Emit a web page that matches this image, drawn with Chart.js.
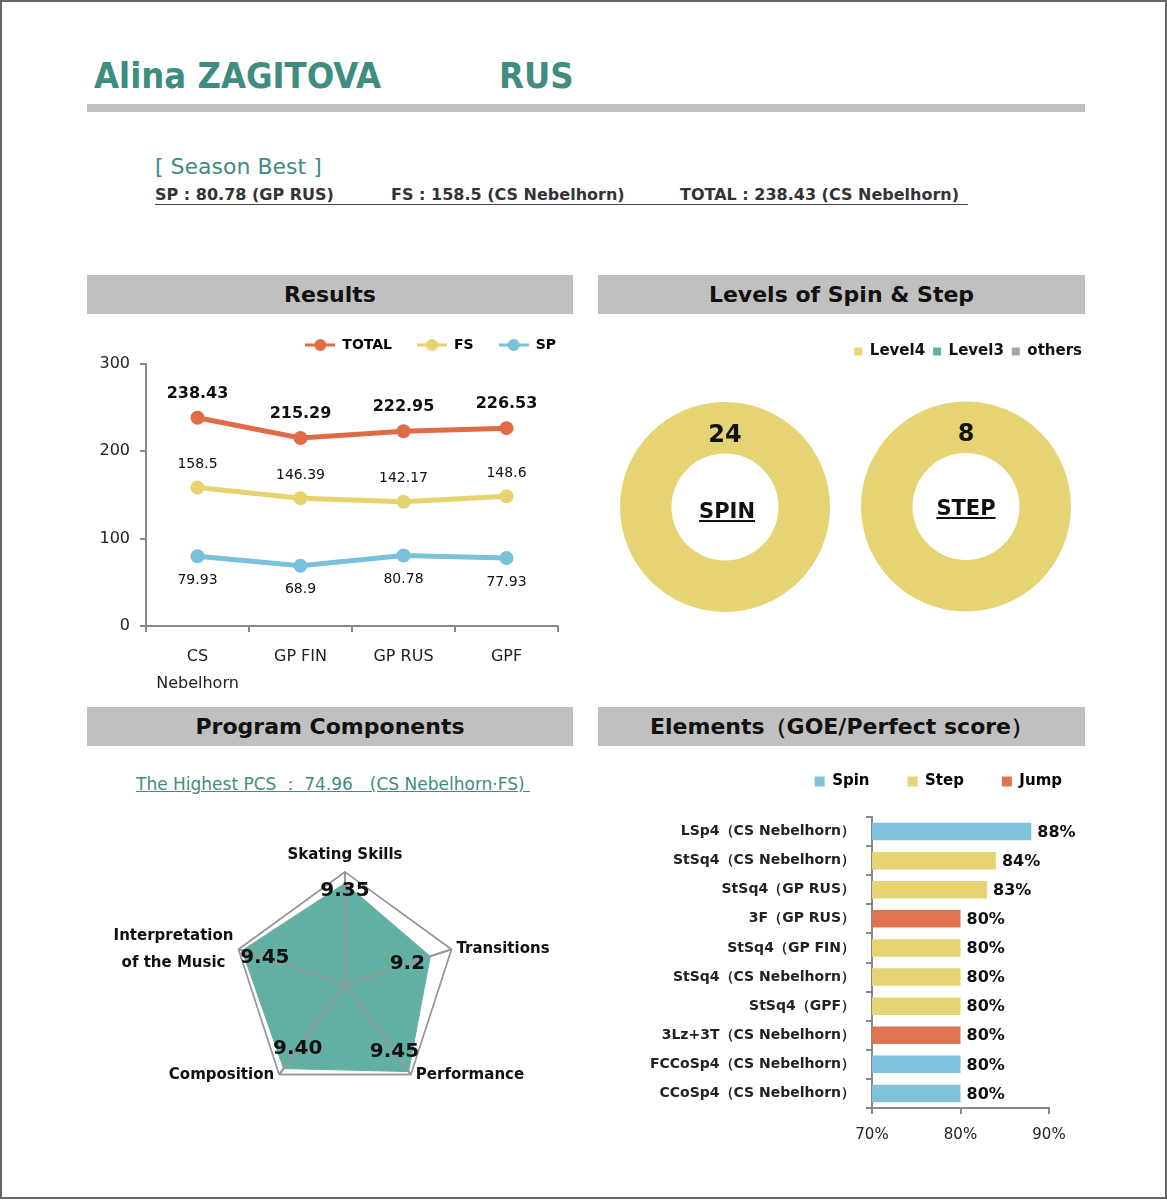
<!DOCTYPE html>
<html>
<head>
<meta charset="utf-8">
<script src="https://cdn.jsdelivr.net/npm/chart.js@4.4.1/dist/chart.umd.min.js"></script>
<style>
  html, body { margin: 0; padding: 0; background: #fff; }
  body { width: 1167px; height: 1200px; position: relative; overflow: hidden; font-family: "DejaVu Sans", Verdana, sans-serif; color: #111; }
  #frame { position: absolute; left: 0; top: 0; width: 1163px; height: 1195px; border: 2px solid #666; }
  .abs { position: absolute; white-space: pre; }
  .cond { font-family: "DejaVu Sans Condensed", "DejaVu Sans", sans-serif; font-stretch: condensed; }
  .title { font-weight: bold; font-size: 36px; line-height: 36px; color: #3f8c80; }
  .best { font-size: 16px; line-height: 16px; font-weight: bold; color: #333; }
  .bar { position: absolute; left: 87px; top: 104px; width: 998px; height: 8px; background: #c0c0c0; }
  .hdr { position: absolute; height: 39px; line-height: 39px; background: #c0c0c0; text-align: center; font-weight: bold; font-size: 22px; color: #111; }
  .center-text { font-weight: bold; font-size: 21px; text-decoration: underline; text-align: center; width: 120px; }
  canvas { position: absolute; }
</style>
</head>
<body>
<div id="frame"></div>

<div class="abs cond title" style="left:94px; top:58px;">Alina ZAGITOVA</div>
<div class="abs cond title" style="left:499px; top:58px;">RUS</div>
<div class="bar"></div>

<div class="abs" style="left:155px; top:156px; font-size:22px; line-height:22px; color:#3f8c80;">[ Season Best ]</div>
<div class="abs best" style="left:155px; top:187px;">SP : 80.78 (GP RUS)</div>
<div class="abs best" style="left:391px; top:187px;">FS : 158.5 (CS Nebelhorn)</div>
<div class="abs best" style="left:680px; top:187px;">TOTAL : 238.43 (CS Nebelhorn)</div>
<div class="abs" style="left:155px; top:204px; width:813px; height:1px; background:#444;"></div>

<div class="hdr" style="left:87px; top:275px; width:486px;">Results</div>
<div class="hdr" style="left:598px; top:275px; width:487px;">Levels of Spin &amp; Step</div>
<div class="hdr" style="left:87px; top:707px; width:486px;">Program Components</div>
<div class="hdr" style="left:598px; top:707px; width:487px;">Elements（GOE/Perfect score）</div>

<div class="abs" style="left:136px; top:775px; font-size:17px; line-height:19px; color:#3f8c80; text-decoration:underline;">The Highest PCS ： 74.96　(CS Nebelhorn·FS) </div>

<canvas id="resultsChart" width="486" height="387" style="left:87px; top:313px;"></canvas>
<canvas id="spinChart" width="210" height="210" style="left:620px; top:402px;"></canvas>
<canvas id="stepChart" width="254" height="308" style="left:839px; top:336px;"></canvas>
<canvas id="pcsChart" width="486" height="262" style="left:87px; top:840px;"></canvas>
<canvas id="elementsChart" width="487" height="419" style="left:598px; top:736px;"></canvas>

<div class="abs center-text" style="left:667px; top:499px;">SPIN</div>
<div class="abs center-text" style="left:906px; top:496px;">STEP</div>

<script>
// Results
const events = [['CS', 'Nebelhorn'], 'GP FIN', 'GP RUS', 'GPF'];
const totalScores = [238.43, 215.29, 222.95, 226.53];
const fsScores = [158.5, 146.39, 142.17, 148.6];
const spScores = [79.93, 68.9, 80.78, 77.93];

// Levels of Spin & Step
const levelNames = ['Level4', 'Level3', 'others'];
const spinLevels = [24, 0, 0];
const stepLevels = [8, 0, 0];

// Program Components
const pcsNames = ['Skating Skills', 'Transitions', 'Performance', 'Composition', ['Interpretation', 'of the Music']];
const pcsScores = [9.35, 9.2, 9.45, 9.40, 9.45];
const pcsText = ['9.35', '9.2', '9.45', '9.40', '9.45'];

// Elements (GOE / perfect score, %)
const elementNames = [
    'LSp4（CS Nebelhorn）',
    'StSq4（CS Nebelhorn）',
    'StSq4（GP RUS）',
    '3F（GP RUS）',
    'StSq4（GP FIN）',
    'StSq4（CS Nebelhorn）',
    'StSq4（GPF）',
    '3Lz+3T（CS Nebelhorn）',
    'FCCoSp4（CS Nebelhorn）',
    'CCoSp4（CS Nebelhorn）'
];
const elementPct = [88, 84, 83, 80, 80, 80, 80, 80, 80, 80];
const elementTypes = ['Spin', 'Step', 'Step', 'Jump', 'Step', 'Step', 'Step', 'Jump', 'Spin', 'Spin'];

const FONT = '"DejaVu Sans", Verdana, sans-serif';
Chart.defaults.font.family = FONT;
Chart.defaults.color = '#222';
Chart.defaults.animation = false;
Chart.defaults.plugins.tooltip.enabled = false;

const colors = { total: '#e06b45', fs: '#e6d36e', sp: '#79c0da', teal: '#62b0a3', others: '#a6a6a6' };
const typeColors = { Spin: '#7fc0db', Step: '#e6d374', Jump: '#e07352' };
const axisGrey = '#888';

// extra room under the legend, and a sideways nudge
const legendGap = {
    id: 'legendGap',
    afterInit(chart, args, opts) {
        const legend = chart.legend;
        if (!legend) return;
        const fit = legend.fit;
        legend.fit = function () { fit.call(this); this.height += opts.gap || 0; };
    },
    afterLayout(chart, args, opts) {
        if (chart.legend && opts.shift) {
            chart.legend.left += opts.shift;
            chart.legend.right += opts.shift;
        }
    }
};

// legend mark: line with a dot
function lineMark(color) {
    const c = document.createElement('canvas');
    c.width = 30; c.height = 14;
    const g = c.getContext('2d');
    g.strokeStyle = color; g.lineWidth = 3;
    g.beginPath(); g.moveTo(0, 7); g.lineTo(30, 7); g.stroke();
    g.fillStyle = color;
    g.beginPath(); g.arc(15, 7, 6, 0, Math.PI * 2); g.fill();
    return c;
}

const lineLabels = {
    id: 'lineLabels',
    afterDatasetsDraw(chart) {
        const ctx = chart.ctx;
        chart.data.datasets.forEach((ds, i) => {
            const meta = chart.getDatasetMeta(i);
            ctx.save();
            ctx.font = ds.labelFont;
            ctx.fillStyle = '#111';
            ctx.textAlign = 'center';
            ctx.textBaseline = 'middle';
            meta.data.forEach((pt, j) => ctx.fillText(String(ds.data[j]), pt.x, pt.y + ds.labelDy));
            ctx.restore();
        });
    }
};

new Chart(document.getElementById('resultsChart'), {
    type: 'line',
    data: {
        labels: events,
        datasets: [
            { label: 'TOTAL', data: totalScores, borderColor: colors.total, backgroundColor: colors.total, labelFont: 'bold 16px ' + FONT, labelDy: -24 },
            { label: 'FS', data: fsScores, borderColor: colors.fs, backgroundColor: colors.fs, labelFont: '14px ' + FONT, labelDy: -23 },
            { label: 'SP', data: spScores, borderColor: colors.sp, backgroundColor: colors.sp, labelFont: '14px ' + FONT, labelDy: 24 }
        ]
    },
    options: {
        responsive: false,
        layout: { padding: { left: 0, right: 15, top: 0, bottom: 0 } },
        elements: {
            line: { borderWidth: 5, tension: 0 },
            point: { radius: 7, hoverRadius: 7, borderWidth: 0 }
        },
        plugins: {
            legendGap: { gap: 2, shift: 23 },
            legend: {
                align: 'end',
                labels: {
                    usePointStyle: true,
                    pointStyleWidth: 30,
                    padding: 25,
                    color: '#111',
                    font: { size: 14, weight: 'bold' },
                    generateLabels(chart) {
                        return chart.data.datasets.map((ds, i) => ({
                            text: ds.label, datasetIndex: i, pointStyle: lineMark(ds.borderColor),
                            fillStyle: ds.borderColor, strokeStyle: ds.borderColor, lineWidth: 0, hidden: false
                        }));
                    }
                },
                onClick: null
            }
        },
        scales: {
            x: {
                offset: true,
                grid: { offset: true, drawOnChartArea: false, tickLength: 6, color: axisGrey, lineWidth: 2 },
                border: { color: axisGrey, width: 2 },
                ticks: { font: { size: 16, lineHeight: 1.7 }, color: '#222', padding: 11, maxRotation: 0 },
                afterFit(s) { s.height = 74; }
            },
            y: {
                min: 0, max: 300,
                ticks: { stepSize: 100, font: { size: 16 }, color: '#222', padding: 10 },
                grid: { drawOnChartArea: false, tickLength: 6, color: axisGrey, lineWidth: 2 },
                border: { color: axisGrey, width: 2 },
                afterFit(s) { s.width = 59; }
            }
        }
    },
    plugins: [legendGap, lineLabels]
});

// number on top of the ring
const ringLabel = {
    id: 'ringLabel',
    afterDatasetsDraw(chart) {
        const arc = chart.getDatasetMeta(0).data[0];
        const r = (arc.innerRadius + arc.outerRadius) / 2;
        const ctx = chart.ctx;
        ctx.save();
        ctx.font = 'bold 24px ' + FONT;
        ctx.fillStyle = '#111';
        ctx.textAlign = 'center';
        ctx.textBaseline = 'middle';
        ctx.fillText(String(chart.data.datasets[0].data[0]), arc.x, arc.y - r + 8);
        ctx.restore();
    }
};

function levelChart(id, values, showLegend) {
    return new Chart(document.getElementById(id), {
        type: 'doughnut',
        data: {
            labels: levelNames,
            datasets: [{ data: values, backgroundColor: [typeColors.Step, colors.teal, colors.others], borderWidth: 0 }]
        },
        options: {
            responsive: false,
            radius: 105,
            cutout: '51%',
            plugins: {
                legendGap: { shift: -3 },
                legend: {
                    display: showLegend,
                    align: 'end',
                    labels: { boxWidth: 8, boxHeight: 8, padding: 8, color: '#111', font: { size: 15, weight: 'bold' } },
                    onClick: null
                }
            }
        },
        plugins: [legendGap, ringLabel]
    });
}
levelChart('spinChart', spinLevels, false);
levelChart('stepChart', stepLevels, true);

// category names round the radar, centred on each corner like the original
const radarNames = {
    id: 'radarNames',
    afterDraw(chart) {
        const s = chart.scales.r;
        const ctx = chart.ctx;
        ctx.save();
        ctx.font = 'bold 15px ' + FONT;
        ctx.fillStyle = '#111';
        ctx.textAlign = 'center';
        ctx.textBaseline = 'middle';
        chart.data.labels.forEach((name, i) => {
            const lines = [].concat(name);
            const p = s.getPointPosition(i, s.drawingArea);
            const dx = p.x - s.xCenter;
            const w = Math.max(...lines.map(l => ctx.measureText(l).width));
            let cx = p.x, cy = p.y;
            if (Math.abs(dx) < 1) cy = p.y - 17;
            else if (dx > 0) cx = p.x + 5 + w / 2;
            else cx = p.x - 5 - w / 2;
            lines.forEach((l, k) => ctx.fillText(l, cx, cy + (k - (lines.length - 1) / 2) * 27));
        });
        ctx.restore();
    }
};

// grid over the filled area, then the values
const radarLabels = {
    id: 'radarLabels',
    afterDatasetsDraw(chart) {
        chart.scales.r.drawGrid();
    },
    afterDraw(chart) {
        const r = chart.scales.r;
        const ctx = chart.ctx;
        ctx.save();
        ctx.font = 'bold 20px ' + FONT;
        ctx.fillStyle = '#111';
        ctx.textAlign = 'center';
        ctx.textBaseline = 'middle';
        chart.getDatasetMeta(0).data.forEach((pt, i) => {
            const dx = r.xCenter - pt.x, dy = r.yCenter - pt.y;
            const d = Math.hypot(dx, dy) || 1;
            const off = i === 0 ? 8 : 24;
            ctx.fillText(pcsText[i], pt.x + dx / d * off, pt.y + dy / d * off);
        });
        ctx.restore();
    }
};

new Chart(document.getElementById('pcsChart'), {
    type: 'radar',
    data: {
        labels: pcsNames,
        datasets: [{ data: pcsScores, backgroundColor: colors.teal, borderColor: colors.teal, borderWidth: 1, pointRadius: 0, fill: true }]
    },
    options: {
        responsive: false,
        layout: { padding: { left: 146, right: 116, top: 32, bottom: 6 } },
        plugins: { legend: { display: false } },
        scales: {
            r: {
                min: 8, max: 9.5,
                ticks: { display: false, stepSize: 1.5 },
                grid: { color: '#999', lineWidth: 1.5 },
                angleLines: { color: '#999', lineWidth: 2 },
                pointLabels: { display: false }
            }
        }
    },
    plugins: [radarNames, radarLabels]
});

// percentages at bar ends
const barLabels = {
    id: 'barLabels',
    afterDatasetsDraw(chart) {
        const ctx = chart.ctx;
        const ds = chart.data.datasets[0];
        ctx.save();
        ctx.font = 'bold 16px ' + FONT;
        ctx.fillStyle = '#111';
        ctx.textAlign = 'left';
        ctx.textBaseline = 'middle';
        chart.getDatasetMeta(0).data.forEach((bar, i) => ctx.fillText(ds.data[i] + '%', bar.x + 6, bar.y + 1));
        ctx.restore();
    }
};

new Chart(document.getElementById('elementsChart'), {
    type: 'bar',
    data: {
        labels: elementNames,
        datasets: [{
            label: 'GOE/Perfect score',
            data: elementPct,
            backgroundColor: elementTypes.map(t => typeColors[t]),
            barPercentage: 0.6,
            categoryPercentage: 1
        }]
    },
    options: {
        indexAxis: 'y',
        responsive: false,
        layout: { padding: { left: 0, right: 36, top: 0, bottom: 0 } },
        plugins: {
            legendGap: { gap: 18, shift: 51 },
            legend: {
                align: 'end',
                labels: {
                    boxWidth: 10, boxHeight: 10, padding: 38, color: '#111',
                    font: { size: 15, weight: 'bold' },
                    generateLabels() {
                        return Object.keys(typeColors).map(t => ({ text: t, fillStyle: typeColors[t], strokeStyle: typeColors[t], lineWidth: 0, hidden: false }));
                    }
                },
                onClick: null
            }
        },
        scales: {
            x: {
                min: 70, max: 90,
                ticks: { stepSize: 10, callback: v => v + '%', font: { size: 15 }, color: '#222', padding: 12 },
                grid: { drawOnChartArea: false, tickLength: 6, color: axisGrey, lineWidth: 2 },
                border: { color: axisGrey, width: 2 },
                afterFit(s) { s.height = 47; }
            },
            y: {
                grid: { offset: true, drawOnChartArea: false, tickLength: 6, color: axisGrey, lineWidth: 2 },
                border: { color: axisGrey, width: 2 },
                ticks: { font: { size: 14, weight: 'bold' }, color: '#222', padding: 11 },
                afterFit(s) { s.width = 274; }
            }
        }
    },
    plugins: [legendGap, barLabels]
});
</script>
</body>
</html>
